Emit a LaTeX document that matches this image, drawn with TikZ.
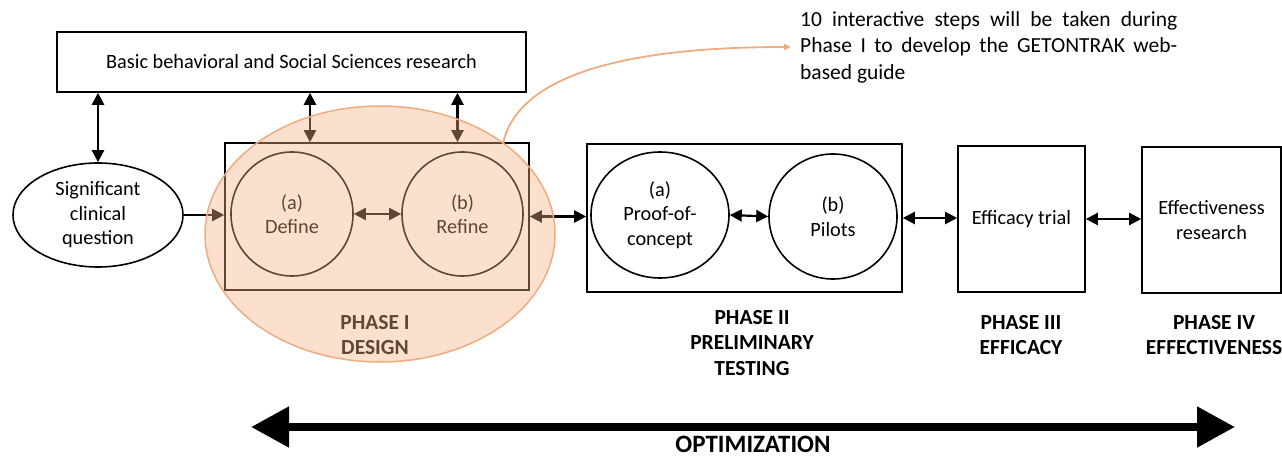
\documentclass[tikz,border=0pt]{standalone}
\usepackage{fontspec}
\setmainfont{Carlito}
\usetikzlibrary{arrows.meta,shapes.geometric}
\definecolor{peach}{RGB}{244,177,131}
\definecolor{peachline}{RGB}{238,172,128}
\begin{document}
\begin{tikzpicture}[x=1pt,y=-1pt,
  box/.style={draw,line width=1.6pt,inner sep=0pt,align=center},
  oval/.style={ellipse,draw,line width=1.6pt,inner sep=0pt,align=center},
  conn/.style={line width=2.2pt,{Triangle[length=12pt,width=12pt]}-{Triangle[length=12pt,width=12pt]}},
  connone/.style={line width=2.2pt,-{Triangle[length=12pt,width=12pt]}},
  txt/.style={font=\fontsize{20.3}{24.5}\selectfont},
  lab/.style={font=\bfseries\fontsize{21.5}{25.8}\selectfont,align=center}]
\useasboundingbox (0,0) rectangle (1282,457);

% top box
\node[box,minimum width=469pt,minimum height=60pt,txt] (basic) at (291.5,62) {Basic behavioral and Social Sciences research};
% clinical question
\node[oval,minimum width=170pt,minimum height=104pt,txt] (sig) at (98,215) {Significant\\clinical\\question};
% phase I
\node[box,minimum width=304pt,minimum height=147pt] (p1) at (377,216.5) {};
\node[oval,minimum width=122pt,minimum height=124pt,txt] (def) at (292,214) {(a)\\Define};
\node[oval,minimum width=121pt,minimum height=124pt,txt] (ref) at (462.5,214) {(b)\\Refine};
% phase II
\node[box,minimum width=315pt,minimum height=148pt] (p2) at (744.5,218) {};
\node[oval,minimum width=138pt,minimum height=126pt,txt] (poc) at (660,215) {(a)\\Proof-of-\\concept};
\node[oval,minimum width=128pt,minimum height=125pt,txt] (pil) at (833,216.5) {(b)\\Pilots};
% phase III, IV
\node[box,minimum width=127pt,minimum height=146pt,txt] (eff) at (1021.5,219) {Efficacy trial};
\node[box,minimum width=139pt,minimum height=146pt,txt] (effr) at (1211.5,220) {Effectiveness\\research};

% connectors
\coordinate (ta) at (310,0);
\coordinate (tb) at (457.5,0);
\draw[conn] (basic.south -| sig.north) -- (sig.north);
\draw[conn] (basic.south -| ta) -- (p1.north -| ta);
\draw[conn] (basic.south -| tb) -- (p1.north -| tb);
\draw[connone] (sig.east) -- (sig.east -| p1.west);
\draw[conn] (def.east) -- (ref.west);
\draw[conn] (p1.east) -- (p1.east -| p2.west);
\draw[conn] (poc.east) -- (pil.west);
\draw[conn] (p2.east) -- (p2.east -| eff.west);
\draw[conn] (eff.east) -- (eff.east -| effr.west);

% labels
\node[lab] (l1) at (375,335) {PHASE I\\DESIGN};
\node[lab] (l2) at (752,343) {PHASE II\\PRELIMINARY\\TESTING};
\node[lab] (l3) at (1021,335) {PHASE III\\EFFICACY};
\node[lab] (l4) at (1214,335) {PHASE IV\\EFFECTIVENESS};

% optimization
\coordinate (oL) at (251,427);
\coordinate (oR) at (1235,427);
\draw[line width=8pt,{Triangle[length=38pt,width=39pt]}-{Triangle[length=38pt,width=39pt]}] (oL) -- (oR);
\node[font=\bfseries\fontsize{25}{28}\selectfont,anchor=base,inner sep=0pt] (opt) at (753,452) {OPTIMIZATION};

% orange overlay
\node[ellipse,minimum width=350pt,minimum height=256pt,fill=peach,fill opacity=0.4,draw=peachline,line width=1.5pt] (orng) at (380,234) {};

% annotation
\node[anchor=north west,inner sep=0pt,align=justify,text width=377pt,font=\fontsize{21.5}{26.5}\selectfont] (ann) at (800,11)
  {10 interactive steps will be taken during\linebreak Phase I to develop the GETONTRAK web-\linebreak based guide};
\coordinate (cst) at (503,143);
\draw[peachline,line width=1.8pt,-{Triangle[length=7pt,width=6pt]}] (cst) .. controls (520,70) and (640,47) .. ([xshift=-9pt]ann.west);
\end{tikzpicture}
\end{document}
